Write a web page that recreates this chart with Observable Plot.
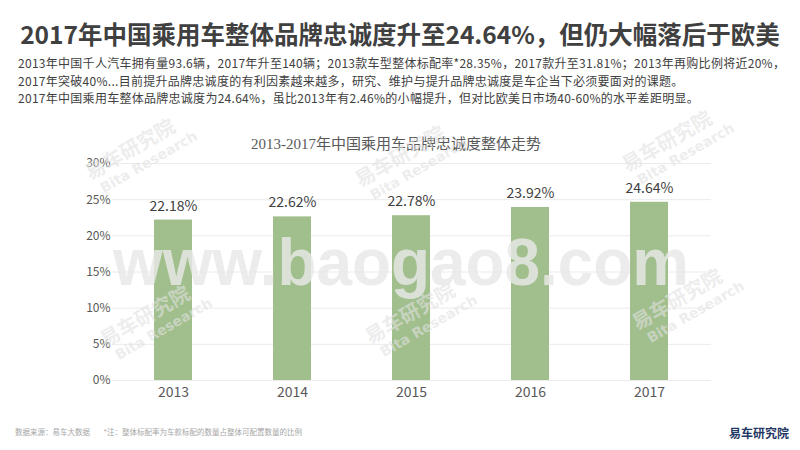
<!DOCTYPE html>
<html>
<head>
<meta charset="utf-8">
<script src="https://cdn.jsdelivr.net/npm/d3@7"></script>
<script src="https://cdn.jsdelivr.net/npm/@observablehq/plot@0.6"></script>
<style>
  html, body { margin: 0; padding: 0; background: #fff; }
  #page { position: relative; width: 800px; height: 450px; overflow: hidden; font-family: "Noto Sans CJK SC", "Noto Sans", sans-serif; }
  #title { position: absolute; left: 0; width: 800px; top: 16px; text-align: center; font-size: 24.5px; font-weight: bold; color: #404040; line-height: 36px; white-space: nowrap; }
  #sub { position: absolute; left: 18px; top: 54px; font-size: 12px; letter-spacing: 0.28px; color: #404040; line-height: 17.5px; white-space: nowrap; }
  #ctitle { position: absolute; left: 0; width: 792px; top: 132px; text-align: center; font-size: 15px; color: #595959; font-family: "Liberation Serif", "Noto Sans CJK SC", serif; white-space: nowrap; }
  #chart { position: absolute; left: 0; top: 120px; }
  #wm { position: absolute; left: 0; top: 0; pointer-events: none; }
  #src { position: absolute; left: 15px; top: 426px; font-size: 7.5px; color: #a6a6a6; white-space: nowrap; }
  #logo { position: absolute; left: 729px; top: 424px; font-size: 12px; font-weight: bold; color: #1f3864; white-space: nowrap; }
</style>
</head>
<body>
<div id="page">
  <div id="title">2017年中国乘用车整体品牌忠诚度升至24.64%，但仍大幅落后于欧美</div>
  <div id="sub">
    2013年中国千人汽车拥有量93.6辆，2017年升至140辆；2013款车型整体标配率*28.35%，2017款升至31.81%；2013年再购比例将近20%，<br>
    2017年突破40%...目前提升品牌忠诚度的有利因素越来越多，研究、维护与提升品牌忠诚度是车企当下必须要面对的课题。<br>
    2017年中国乘用车整体品牌忠诚度为24.64%，虽比2013年有2.46%的小幅提升，但对比欧美日市场40-60%的水平差距明显。
  </div>
  <div id="ctitle">2013-2017年中国乘用车品牌忠诚度整体走势</div>
  <div id="chart"></div>
  <div id="src">数据来源：易车大数据&nbsp;&nbsp;&nbsp;&nbsp;&nbsp;&nbsp;&nbsp;&nbsp;*注：整体标配率为车款标配的数量占整体可配置数量的比例</div>
  <div id="logo">易车研究院</div>
</div>
<script>
const years = ["2013", "2014", "2015", "2016", "2017"];
const loyalty = [22.18, 22.62, 22.78, 23.92, 24.64];
const yTicks = [0, 5, 10, 15, 20, 25, 30];

const data = years.map((year, i) => ({year, value: loyalty[i]}));

const chart = Plot.plot({
  width: 800,
  height: 290,
  marginLeft: 112,
  marginRight: 89,
  marginTop: 43,
  marginBottom: 30,
  style: {fontFamily: "'Noto Sans CJK SC', 'Noto Sans', sans-serif", background: "transparent"},
  x: {domain: years, paddingInner: 0.68, paddingOuter: 0.34, label: null},
  y: {domain: [0, 30], label: null},
  marks: [
    Plot.gridY(yTicks, {stroke: "#ebebeb", strokeOpacity: 1}),
    Plot.barY(data, {x: "year", y: "value", fill: "#a0bf8c"}),
    Plot.text(data, {x: "year", y: "value", text: d => d.value.toFixed(2) + "%", dy: -14, fontSize: 14, fill: "#404040"}),
    Plot.axisY(yTicks, {tickSize: 0, tickPadding: 2, tickFormat: d => d + "%", fontSize: 12, fill: "#595959", label: null}),
    Plot.axisX({tickSize: 0, tickPadding: 7, fontSize: 14, fill: "#595959", label: null})
  ]
});
document.getElementById("chart").appendChild(chart);

// watermarks overlay
const ns = "http://www.w3.org/2000/svg";
const wm = document.createElementNS(ns, "svg");
wm.setAttribute("id", "wm");
wm.setAttribute("width", 800);
wm.setAttribute("height", 450);
const small = [[135, 158], [405, 165], [672, 150], [150, 325], [415, 322], [682, 308]];
small.forEach(([cx, cy]) => {
  const g = document.createElementNS(ns, "g");
  g.setAttribute("transform", `translate(${cx},${cy}) rotate(-30)`);
  g.setAttribute("fill", "#e2e2e2");
  g.setAttribute("fill-opacity", "0.6");
  const t1 = document.createElementNS(ns, "text");
  t1.setAttribute("text-anchor", "middle");
  t1.setAttribute("font-size", "20");
  t1.setAttribute("font-weight", "bold");
  t1.setAttribute("font-family", "Noto Sans CJK SC");
  t1.setAttribute("y", "-3");
  t1.textContent = "易车研究院";
  const t2 = document.createElementNS(ns, "text");
  t2.setAttribute("text-anchor", "middle");
  t2.setAttribute("font-size", "14");
  t2.setAttribute("font-weight", "bold");
  t2.setAttribute("font-family", "DejaVu Sans");
  t2.setAttribute("x", "10");
  t2.setAttribute("y", "15");
  t2.textContent = "Bita Research";
  g.appendChild(t1); g.appendChild(t2);
  wm.appendChild(g);
});
const big = document.createElementNS(ns, "text");
big.setAttribute("x", "113");
big.setAttribute("y", "285");
big.setAttribute("font-size", "66");
big.setAttribute("font-weight", "bold");
big.setAttribute("font-family", "Liberation Sans, Arial, sans-serif");
big.setAttribute("fill", "#e8e8e8");
big.setAttribute("fill-opacity", "0.82");
big.setAttribute("textLength", "576");
big.setAttribute("lengthAdjust", "spacingAndGlyphs");
big.textContent = "www.baogao8.com";
wm.appendChild(big);
document.getElementById("page").appendChild(wm);
</script>
</body>
</html>
